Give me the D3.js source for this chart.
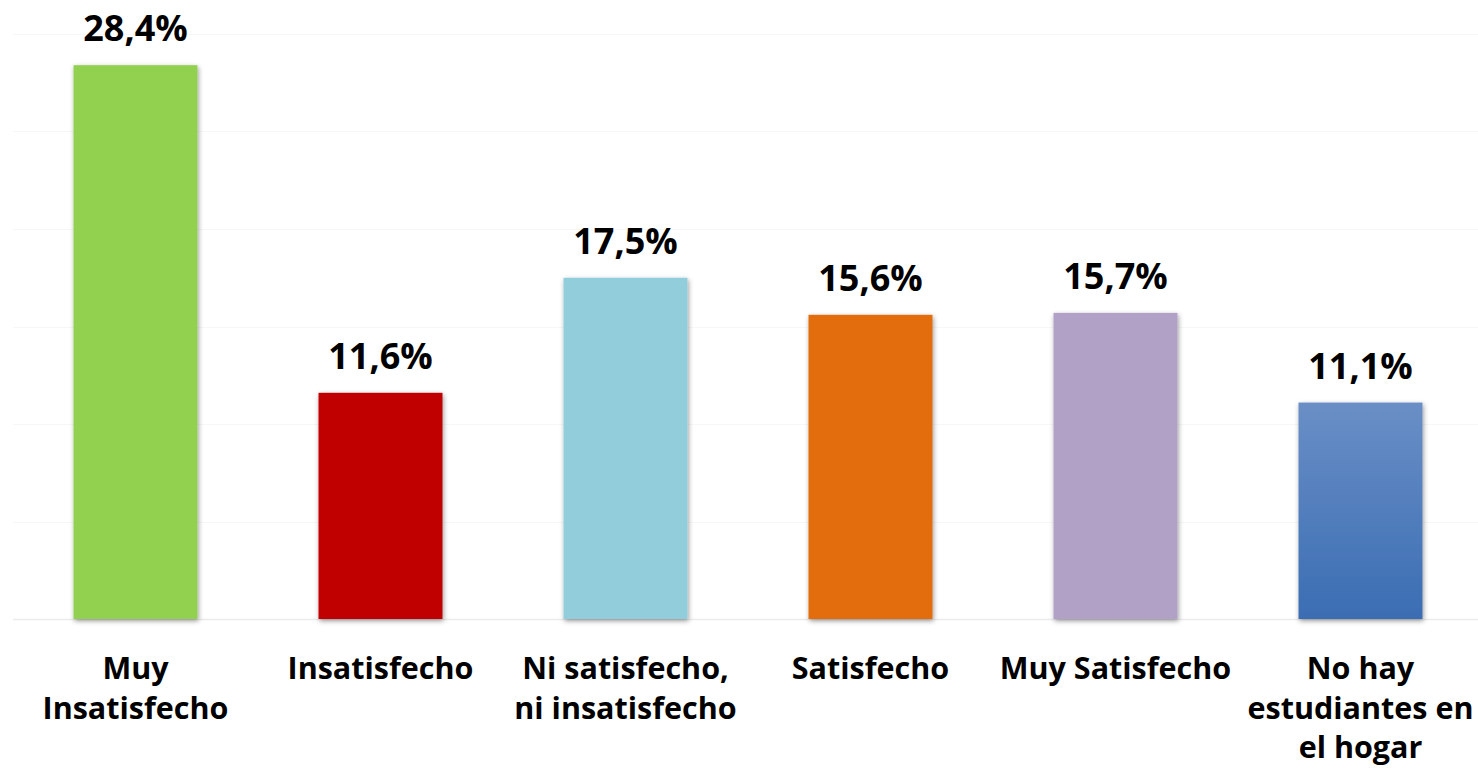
<!DOCTYPE html>
<html>
<head>
<meta charset="utf-8">
<script src="https://cdn.jsdelivr.net/npm/d3@7"></script>
<style>
  html, body { margin: 0; padding: 0; background: #fff; }
  svg { display: block; }
  text { font-family: "Open Sans", "Liberation Sans", sans-serif; font-weight: 700; fill: #000; }
</style>
</head>
<body>
<svg id="chart" width="1478" height="776"></svg>
<script>
// Satisfacción — porcentajes por categoría
const categories = [
  "Muy Insatisfecho",
  "Insatisfecho",
  "Ni satisfecho, ni insatisfecho",
  "Satisfecho",
  "Muy Satisfecho",
  "No hay estudiantes en el hogar"
];
const labelLines = [
  ["Muy", "Insatisfecho"],
  ["Insatisfecho"],
  ["Ni satisfecho,", "ni insatisfecho"],
  ["Satisfecho"],
  ["Muy Satisfecho"],
  ["No hay", "estudiantes en", "el hogar"]
];
const values = [28.4, 11.6, 17.5, 15.6, 15.7, 11.1];
const colors = ["#92d050", "#c00000", "#92cddc", "#e36c09", "#b2a1c7", "url(#gBlue)"];
const gridTicks = [0, 5, 10, 15, 20, 25, 30];

const fmt = (v) => v.toFixed(1).replace(".", ",") + "%";

const svg = d3.select("#chart");
const X0 = 13, X1 = 1483, Y0 = 619, Y1 = 34;

const x = d3.scaleBand().domain(categories).range([X0, X1])
  .paddingInner(0.494).paddingOuter(0.247);
const y = d3.scaleLinear().domain([0, 30]).range([Y0, Y1]);

const defs = svg.append("defs");
const grad = defs.append("linearGradient").attr("id", "gBlue")
  .attr("x1", 0).attr("y1", 0).attr("x2", 0).attr("y2", 1);
grad.append("stop").attr("offset", "0%").attr("stop-color", "#6a8fc6");
grad.append("stop").attr("offset", "100%").attr("stop-color", "#3a6db3");

const sh = defs.append("filter").attr("id", "shadow")
  .attr("x", "-10%").attr("y", "-10%").attr("width", "130%").attr("height", "130%");
sh.append("feDropShadow").attr("dx", 1).attr("dy", 2).attr("stdDeviation", 2.5)
  .attr("flood-color", "#000").attr("flood-opacity", 0.4);

// líneas de cuadrícula
svg.append("g").selectAll("line")
  .data(gridTicks)
  .join("line")
    .attr("x1", X0).attr("x2", X1 - 5)
    .attr("y1", (d) => Math.round(y(d)) + 0.5)
    .attr("y2", (d) => Math.round(y(d)) + 0.5)
    .attr("stroke", (d) => d === 0 ? "#ececec" : "#f7f7f7")
    .attr("stroke-width", (d) => d === 0 ? 1.5 : 1);

// barras
svg.append("g").selectAll("rect")
  .data(values)
  .join("rect")
    .attr("x", (d, i) => x(categories[i]))
    .attr("y", (d) => y(d))
    .attr("width", x.bandwidth())
    .attr("height", (d) => y(0) - y(d))
    .attr("fill", (d, i) => colors[i])
    .attr("filter", "url(#shadow)");

// etiquetas de valor
svg.append("g").selectAll("text")
  .data(values)
  .join("text")
    .attr("x", (d, i) => x(categories[i]) + x.bandwidth() / 2)
    .attr("y", (d) => y(d) - 24)
    .attr("text-anchor", "middle")
    .attr("font-size", "36px")
    .text(fmt);

// etiquetas de categoría
const cat = svg.append("g").selectAll("text")
  .data(categories)
  .join("text")
    .attr("text-anchor", "middle")
    .attr("font-size", "30.5px")
    .attr("x", (d) => x(d) + x.bandwidth() / 2)
    .attr("y", 679);
cat.selectAll("tspan")
  .data((d, i) => labelLines[i])
  .join("tspan")
    .attr("x", function () { return this.parentNode.getAttribute("x"); })
    .attr("dy", (d, i) => i === 0 ? 0 : 39.5)
    .text((d) => d);
</script>
</body>
</html>
